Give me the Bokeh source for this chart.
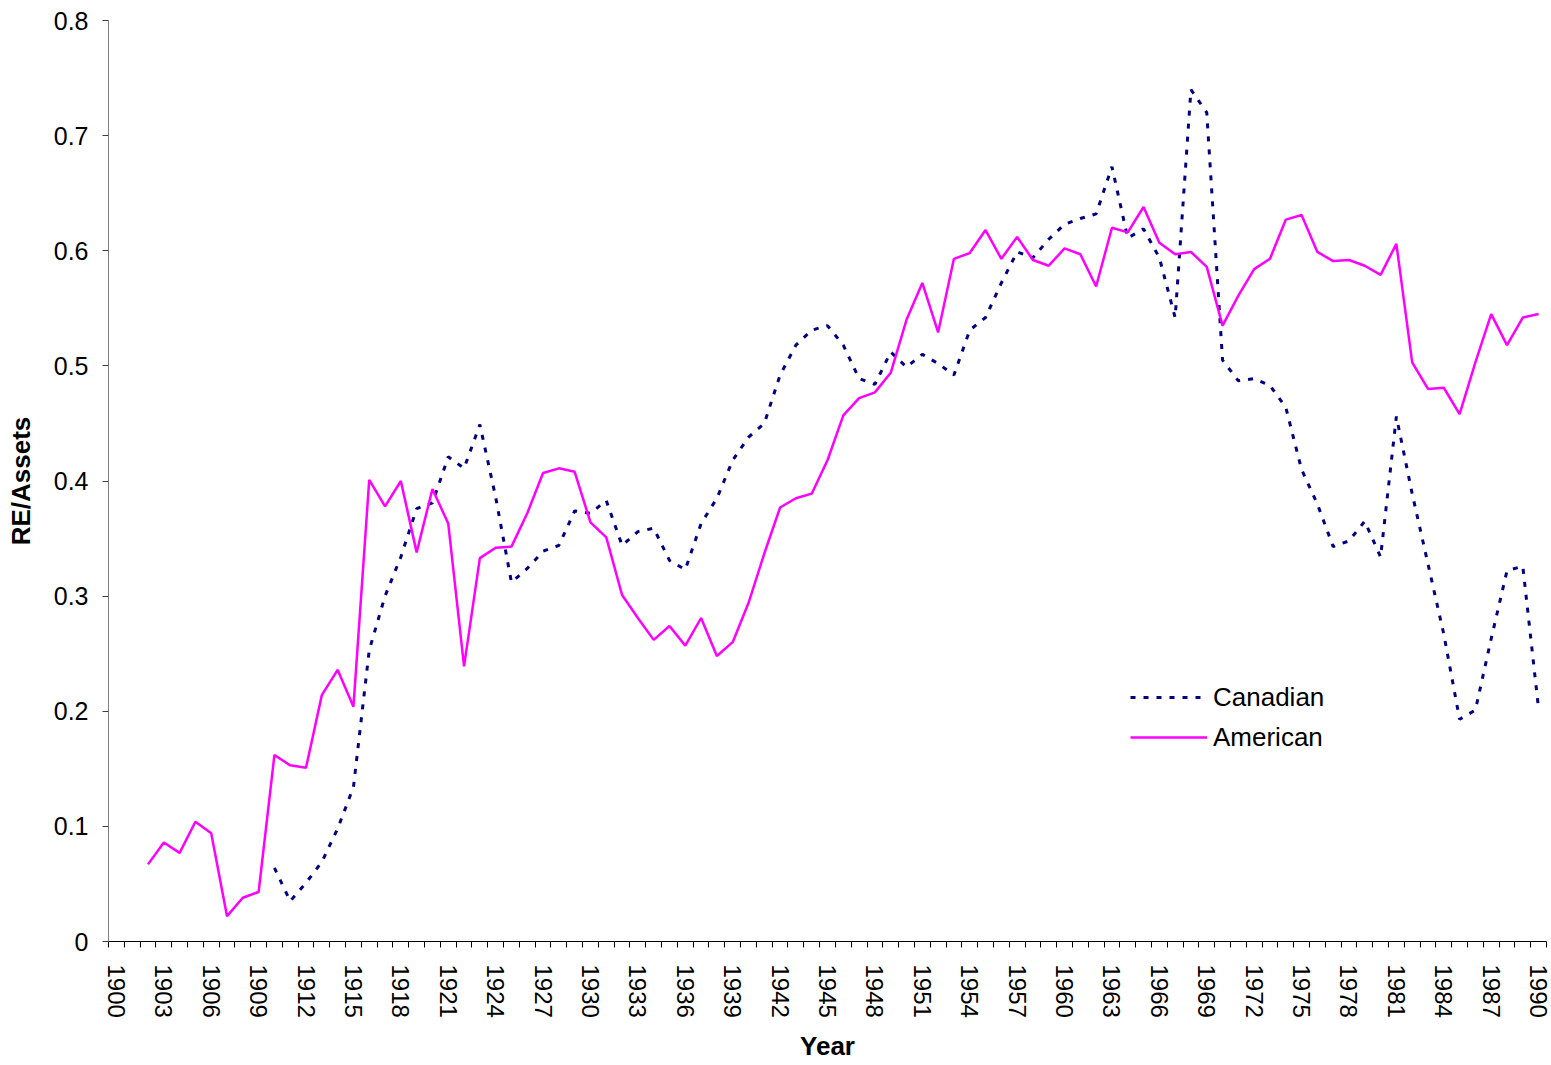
from bokeh.plotting import figure
from bokeh.models import Range1d, FixedTicker, Legend, LegendItem
from bokeh.embed import file_html
from bokeh.resources import INLINE

# ---------------- data ----------------
american_years = list(range(1902, 1991))
american = [0.067, 0.086, 0.077, 0.104, 0.094, 0.022, 0.038, 0.043, 0.162, 0.153,
            0.151, 0.214, 0.236, 0.204, 0.401, 0.378, 0.400, 0.338, 0.393, 0.363,
            0.239, 0.333, 0.342, 0.343, 0.372, 0.407, 0.411, 0.408, 0.364, 0.351,
            0.301, 0.281, 0.262, 0.274, 0.257, 0.281, 0.248, 0.260, 0.294, 0.337,
            0.377, 0.385, 0.389, 0.418, 0.457, 0.472, 0.477, 0.494, 0.540, 0.572,
            0.529, 0.593, 0.598, 0.618, 0.593, 0.612, 0.592, 0.587, 0.602, 0.597,
            0.569, 0.620, 0.616, 0.638, 0.607, 0.597, 0.599, 0.586, 0.535, 0.561,
            0.584, 0.593, 0.627, 0.631, 0.599, 0.591, 0.592, 0.587, 0.579, 0.606,
            0.503, 0.480, 0.481, 0.458, 0.503, 0.545, 0.518, 0.542, 0.545]

canadian_years = list(range(1910, 1991))
canadian = [0.064, 0.035, 0.051, 0.069, 0.098, 0.134, 0.253, 0.300, 0.334, 0.376,
            0.381, 0.421, 0.411, 0.449, 0.386, 0.312, 0.324, 0.339, 0.344, 0.374,
            0.372, 0.383, 0.344, 0.356, 0.359, 0.331, 0.323, 0.363, 0.385, 0.418,
            0.438, 0.450, 0.492, 0.518, 0.531, 0.535, 0.518, 0.489, 0.484, 0.512,
            0.499, 0.510, 0.502, 0.492, 0.531, 0.542, 0.572, 0.599, 0.594, 0.610,
            0.623, 0.628, 0.632, 0.673, 0.611, 0.619, 0.594, 0.542, 0.740, 0.720,
            0.505, 0.487, 0.489, 0.483, 0.464, 0.410, 0.380, 0.343, 0.348, 0.365,
            0.334, 0.456, 0.389, 0.328, 0.267, 0.193, 0.201, 0.263, 0.322, 0.326,
            0.202]

all_years = list(range(1900, 1991))
x_label_years = all_years[::3]
y_ticks = [0, 0.1, 0.2, 0.3, 0.4, 0.5, 0.6, 0.7, 0.8]
y_tick_labels = ["0", "0.1", "0.2", "0.3", "0.4", "0.5", "0.6", "0.7", "0.8"]

FONT = "Liberation Sans"

p = figure(width=1551, height=1064, output_backend="svg", toolbar_location=None,
           x_range=Range1d(all_years[0] - 0.5, all_years[-1] + 0.5),
           y_range=Range1d(y_ticks[0], y_ticks[-1]),
           min_border_left=108, min_border_right=5, min_border_top=20,
           min_border_bottom=123)
p.outline_line_color = None
p.xgrid.visible = False
p.ygrid.visible = False

# x axis
p.xaxis.ticker = FixedTicker(ticks=x_label_years,
                             minor_ticks=[y - 0.5 for y in all_years] + [all_years[-1] + 0.5])
p.xaxis.major_tick_out = 0
p.xaxis.major_tick_in = 0
p.xaxis.minor_tick_out = 6
p.xaxis.minor_tick_in = 0
p.xaxis.minor_tick_line_color = "black"
p.xaxis.axis_line_color = "black"
p.xaxis.major_label_orientation = "vertical"
p.xaxis.major_label_standoff = 17
p.xaxis.major_label_text_font = FONT
p.xaxis.major_label_text_font_size = "24px"
p.xaxis.major_label_text_color = "black"
p.xaxis.axis_label = "Year"
p.xaxis.axis_label_text_font = FONT
p.xaxis.axis_label_text_font_style = "bold"
p.xaxis.axis_label_text_font_size = "26px"
p.xaxis.axis_label_text_color = "black"
p.xaxis.axis_label_standoff = 10

# y axis
p.yaxis.ticker = FixedTicker(ticks=y_ticks, minor_ticks=[])
p.yaxis.major_label_overrides = {t: l for t, l in zip(y_ticks, y_tick_labels)}
p.yaxis.major_tick_out = 6
p.yaxis.major_tick_in = 0
p.yaxis.major_tick_line_color = "#404040"
p.yaxis.axis_line_color = "#808080"
p.yaxis.major_label_standoff = 14
p.yaxis.major_label_text_font = FONT
p.yaxis.major_label_text_font_size = "25px"
p.yaxis.major_label_text_color = "black"
p.yaxis.axis_label = "RE/Assets"
p.yaxis.axis_label_text_font = FONT
p.yaxis.axis_label_text_font_style = "bold"
p.yaxis.axis_label_text_font_size = "26px"
p.yaxis.axis_label_text_color = "black"
p.yaxis.axis_label_standoff = 15

r_can = p.line(canadian_years, canadian, line_color="#000080", line_width=3,
               line_dash="5 8")
r_am = p.line(american_years, american, line_color="#FF00FF", line_width=2.5)

legend = Legend(items=[LegendItem(label="Canadian", renderers=[r_can]),
                       LegendItem(label="American", renderers=[r_am])],
                location=(1022, 184), glyph_width=77, glyph_height=40,
                label_standoff=6, label_text_font=FONT, label_text_font_size="26px",
                label_text_color="black",
                padding=0, spacing=0, margin=0, border_line_alpha=0,
                background_fill_alpha=0)
p.add_layout(legend)

open("out.html", "w").write(file_html(p, INLINE))
